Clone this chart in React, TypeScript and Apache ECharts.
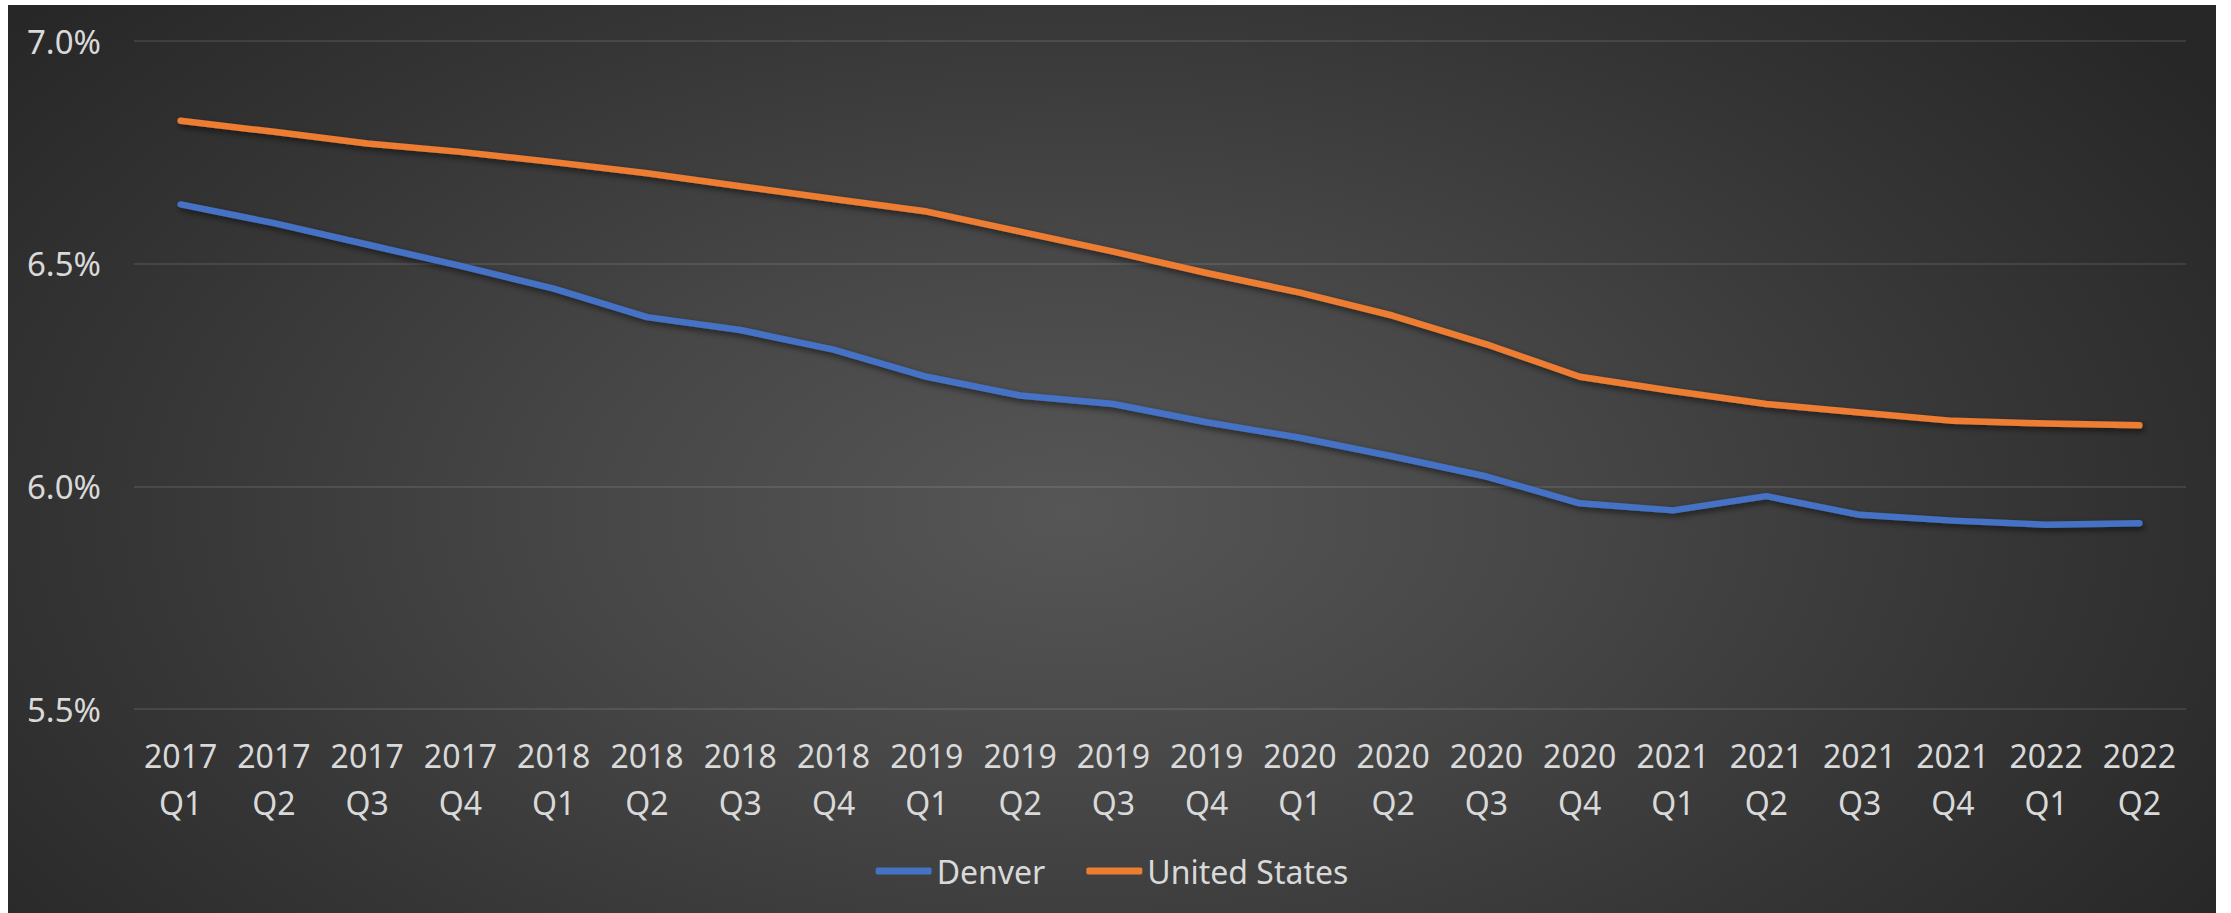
import React, { useEffect, useRef } from "react";
import * as echarts from "echarts";

const categories = [
  "2017\nQ1", "2017\nQ2", "2017\nQ3", "2017\nQ4",
  "2018\nQ1", "2018\nQ2", "2018\nQ3", "2018\nQ4",
  "2019\nQ1", "2019\nQ2", "2019\nQ3", "2019\nQ4",
  "2020\nQ1", "2020\nQ2", "2020\nQ3", "2020\nQ4",
  "2021\nQ1", "2021\nQ2", "2021\nQ3", "2021\nQ4",
  "2022\nQ1", "2022\nQ2",
];

const denver = [
  6.633, 6.591, 6.543, 6.495, 6.444, 6.380, 6.351, 6.307,
  6.246, 6.204, 6.185, 6.144, 6.109, 6.067, 6.022, 5.962,
  5.946, 5.978, 5.936, 5.923, 5.914, 5.917,
];

const unitedStates = [
  6.821, 6.796, 6.770, 6.751, 6.728, 6.703, 6.674, 6.645,
  6.617, 6.572, 6.527, 6.479, 6.435, 6.383, 6.319, 6.246,
  6.214, 6.185, 6.166, 6.147, 6.141, 6.137,
];

const yMin = 5.5;
const yMax = 7.0;
const yStep = 0.5;

const FONT = "'Noto Sans', 'Open Sans', sans-serif";
const TEXT = "#d9d9d9";

export default function App() {
  const ref = useRef<HTMLDivElement>(null);

  useEffect(() => {
    if (!ref.current) return;
    const chart = echarts.init(ref.current, null, { renderer: "svg" });
    const shadow = {
      shadowColor: "rgba(0,0,0,0.55)",
      shadowBlur: 6,
      shadowOffsetX: 2,
      shadowOffsetY: 3,
    };
    chart.setOption({
      animation: false,
      backgroundColor: "transparent",
      grid: { left: 126, right: 30, top: 36, bottom: 204, containLabel: false },
      legend: {
        left: "center",
        top: 844,
        icon: "roundRect",
        itemWidth: 56,
        itemHeight: 7,
        itemGap: 41,
        textStyle: { color: TEXT, fontSize: 32, fontFamily: FONT, lineHeight: 34 },
        data: ["Denver", "United States"],
      },
      xAxis: {
        type: "category",
        data: categories,
        boundaryGap: true,
        axisLine: { show: false },
        axisTick: { show: false },
        axisLabel: {
          color: TEXT,
          fontSize: 32,
          fontFamily: FONT,
          lineHeight: 47,
          margin: 23,
          interval: 0,
        },
      },
      yAxis: {
        type: "value",
        min: yMin,
        max: yMax,
        interval: yStep,
        axisLine: { show: false },
        axisTick: { show: false },
        splitLine: { lineStyle: { color: "rgba(255,255,255,0.13)", width: 1.5 } },
        axisLabel: {
          color: TEXT,
          fontSize: 33,
          fontFamily: FONT,
          margin: 33,
          formatter: (v: number) => v.toFixed(1) + "%",
        },
      },
      series: [
        {
          name: "Denver",
          type: "line",
          data: denver,
          showSymbol: false,
          symbol: "none",
          color: "#4472C4",
          lineStyle: { width: 6.5, color: "#4472C4", cap: "round", join: "round", ...shadow },
        },
        {
          name: "United States",
          type: "line",
          data: unitedStates,
          showSymbol: false,
          symbol: "none",
          color: "#ED7D31",
          lineStyle: { width: 6.5, color: "#ED7D31", cap: "round", join: "round", ...shadow },
        },
      ],
    });
    return () => chart.dispose();
  }, []);

  return (
    <div
      ref={ref}
      style={{
        position: "absolute",
        left: 8,
        top: 5,
        width: 2208,
        height: 908,
        background:
          "radial-gradient(ellipse 62% 85% at 48% 56%, #565656 0%, #474747 35%, #353535 70%, #272727 100%)",
      }}
    />
  );
}
